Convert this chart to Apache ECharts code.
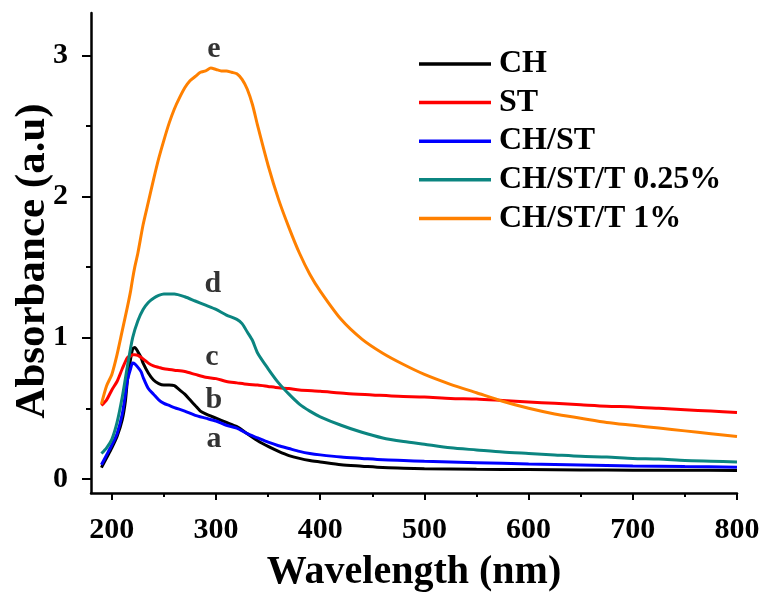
<!DOCTYPE html>
<html>
<head>
<meta charset="utf-8">
<script src="https://cdn.jsdelivr.net/npm/echarts@6/dist/echarts.min.js"></script>
<style>
html,body{margin:0;padding:0;background:#fff;}
#chart{width:761px;height:594px;}
</style>
</head>
<body>
<div id="chart"></div>
<script>
// ---- data ----
var seriesNames = ['CH', 'ST', 'CH/ST', 'CH/ST/T 0.25%', 'CH/ST/T 1%'];
var seriesColors = ['#000000', '#ff0000', '#0000ff', '#0b8580', '#ff8000'];

var chWl  = [190,195,200,205,210,213,215,218,220,222,225,228,230,235,240,245,250,255,260,265,270,275,280,285,290,300,310,320,330,340,350,360,370,380,390,400,420,440,460,480,500,550,600,650,700,750,800];
var chAbs = [0.08,0.15,0.22,0.30,0.42,0.55,0.70,0.85,0.92,0.93,0.90,0.86,0.82,0.75,0.70,0.675,0.665,0.665,0.66,0.63,0.60,0.56,0.52,0.48,0.46,0.43,0.40,0.37,0.32,0.27,0.23,0.195,0.165,0.145,0.13,0.12,0.10,0.09,0.08,0.076,0.072,0.068,0.066,0.063,0.062,0.061,0.06];

var stWl  = [190,195,200,205,210,215,218,220,222,225,230,235,240,245,250,255,260,270,280,290,300,310,320,330,340,350,360,370,380,400,425,450,475,500,525,550,575,600,625,650,675,700,725,750,775,800];
var stAbs = [0.52,0.56,0.63,0.69,0.78,0.86,0.87,0.88,0.88,0.875,0.85,0.82,0.80,0.79,0.78,0.775,0.77,0.76,0.74,0.72,0.71,0.69,0.68,0.67,0.665,0.655,0.645,0.64,0.63,0.62,0.605,0.595,0.585,0.58,0.57,0.565,0.555,0.545,0.535,0.525,0.515,0.51,0.50,0.49,0.48,0.47];

var chstWl  = [190,195,200,205,210,213,215,218,220,222,225,228,230,235,240,245,250,255,260,270,280,290,300,310,320,330,340,350,360,370,380,390,400,420,440,460,480,500,550,600,650,700,750,800];
var chstAbs = [0.10,0.17,0.24,0.32,0.46,0.60,0.70,0.78,0.82,0.815,0.79,0.76,0.72,0.64,0.60,0.56,0.535,0.52,0.505,0.48,0.45,0.43,0.41,0.38,0.36,0.32,0.29,0.26,0.235,0.215,0.195,0.18,0.17,0.155,0.145,0.135,0.13,0.125,0.115,0.105,0.098,0.092,0.087,0.083];

var t025Wl  = [190,195,200,205,210,215,220,225,230,235,240,245,250,255,260,270,280,290,300,310,320,325,330,335,340,350,360,370,380,390,400,420,440,460,480,500,525,550,575,600,625,650,675,700,725,750,775,800];
var t025Abs = [0.18,0.22,0.28,0.40,0.58,0.80,1.00,1.12,1.20,1.25,1.28,1.30,1.31,1.31,1.31,1.29,1.26,1.23,1.20,1.16,1.13,1.10,1.04,0.98,0.89,0.78,0.68,0.60,0.53,0.48,0.44,0.38,0.33,0.29,0.265,0.245,0.22,0.205,0.19,0.18,0.17,0.16,0.155,0.145,0.14,0.13,0.125,0.12];

var t1Wl  = [190,195,200,205,210,215,218,220,222,225,230,235,240,245,250,255,260,265,270,275,280,285,290,295,300,305,310,315,320,325,330,335,340,350,360,370,380,390,400,420,440,460,480,500,525,550,575,600,625,650,675,700,725,750,775,800];
var t1Abs = [0.53,0.66,0.74,0.88,1.05,1.22,1.33,1.42,1.50,1.60,1.80,1.96,2.12,2.27,2.40,2.52,2.62,2.70,2.77,2.82,2.85,2.88,2.89,2.91,2.90,2.89,2.89,2.88,2.87,2.83,2.76,2.65,2.50,2.22,1.98,1.78,1.60,1.45,1.33,1.13,0.99,0.89,0.81,0.74,0.67,0.61,0.55,0.50,0.46,0.43,0.40,0.38,0.36,0.34,0.32,0.30];

var curveLabels = ['e', 'd', 'c', 'b', 'a'];
var curveLabelWl = [298, 297, 296, 298, 298];
var curveLabelAbs = [3.04, 1.38, 0.86, 0.56, 0.28];

var xTicks = [200, 300, 400, 500, 600, 700, 800];
var xMinorTicks = [250, 350, 450, 550, 650, 750];
var yTicks = [0, 1, 2, 3];
var yMinorTicks = [0.5, 1.5, 2.5];

// ---- build ----
function pairs(xs, ys) { return xs.map(function (x, i) { return [x, ys[i]]; }); }
var allWl = [chWl, stWl, chstWl, t025Wl, t1Wl];
var allAbs = [chAbs, stAbs, chstAbs, t025Abs, t1Abs];

var FONT = '"Liberation Serif", "Times New Roman", serif';

var series = seriesNames.map(function (name, i) {
  return {
    name: name,
    type: 'line',
    xAxisIndex: 0, yAxisIndex: 0,
    data: pairs(allWl[i], allAbs[i]),
    showSymbol: false,
    symbol: 'none',
    smooth: 0.25,
    lineStyle: { color: seriesColors[i], width: 3 },
    itemStyle: { color: seriesColors[i] },
    z: 2 + i
  };
});
series.push({
  type: 'scatter',
  name: 'labels',
  xAxisIndex: 0, yAxisIndex: 0,
  symbolSize: 0,
  silent: true,
  data: curveLabelWl.map(function (x, i) { return { value: [x, curveLabelAbs[i]], name: curveLabels[i] }; }),
  label: {
    show: true, position: 'inside', formatter: '{b}',
    fontFamily: FONT, fontWeight: 'bold', fontSize: 30, color: '#000'
  }
});

var axisLineStyle = { color: '#000', width: 2.5 };

var option = {
  backgroundColor: '#fff',
  animation: false,
  grid: { left: 91, right: 24, top: 13, bottom: 101, containLabel: false, outerBoundsMode: 'none' },
  legend: {
    orient: 'vertical',
    left: 419, top: 48,
    padding: 0,
    data: seriesNames,
    icon: 'rect',
    itemWidth: 72, itemHeight: 3.5, itemGap: 6.6,
    textStyle: { fontFamily: FONT, fontWeight: 'bold', fontSize: 32, color: '#000', lineHeight: 32, padding: [0, 0, 0, 3] }
  },
  xAxis: [{
    type: 'value', min: 180, max: 800,
    name: 'Wavelength (nm)', nameLocation: 'middle', nameGap: 60, nameMoveOverlap: false,
    nameTextStyle: { fontFamily: FONT, fontWeight: 'bold', fontSize: 40, color: '#000' },
    axisLine: { show: true, onZero: false, lineStyle: axisLineStyle },
    axisTick: { show: true, customValues: xTicks, length: 7, inside: false, lineStyle: { color: '#000', width: 2 } },
    axisLabel: { customValues: xTicks, margin: 22, fontFamily: FONT, fontWeight: 'bold', fontSize: 30, color: '#000' },
    splitLine: { show: false }
  }, {
    type: 'value', min: 180, max: 800, position: 'bottom',
    axisLine: { show: false, onZero: false },
    axisTick: { show: true, inside: false, customValues: xMinorTicks, length: 4, lineStyle: { color: '#000', width: 2 } },
    axisLabel: { show: false },
    splitLine: { show: false }
  }],
  yAxis: [{
    type: 'value', min: -0.1, max: 3.3,
    name: 'Absorbance (a.u)', nameLocation: 'middle', nameGap: 37, nameRotate: 90, nameMoveOverlap: false,
    nameTextStyle: { fontFamily: FONT, fontWeight: 'bold', fontSize: 43, color: '#000', padding: [0, 16, 0, 0] },
    axisLine: { show: true, onZero: false, lineStyle: axisLineStyle },
    axisTick: { show: true, inside: false, customValues: yTicks, length: 9, lineStyle: { color: '#000', width: 2 } },
    axisLabel: { customValues: yTicks, margin: 23, fontFamily: FONT, fontWeight: 'bold', fontSize: 30, color: '#000' },
    splitLine: { show: false }
  }, {
    type: 'value', min: -0.1, max: 3.3, position: 'left',
    axisLine: { show: false, onZero: false },
    axisTick: { show: true, inside: false, customValues: yMinorTicks, length: 5, lineStyle: { color: '#000', width: 2 } },
    axisLabel: { show: false },
    splitLine: { show: false }
  }],
  series: series
};

var chart = echarts.init(document.getElementById('chart'), null, { renderer: 'canvas' });
chart.setOption(option);
</script>
</body>
</html>
